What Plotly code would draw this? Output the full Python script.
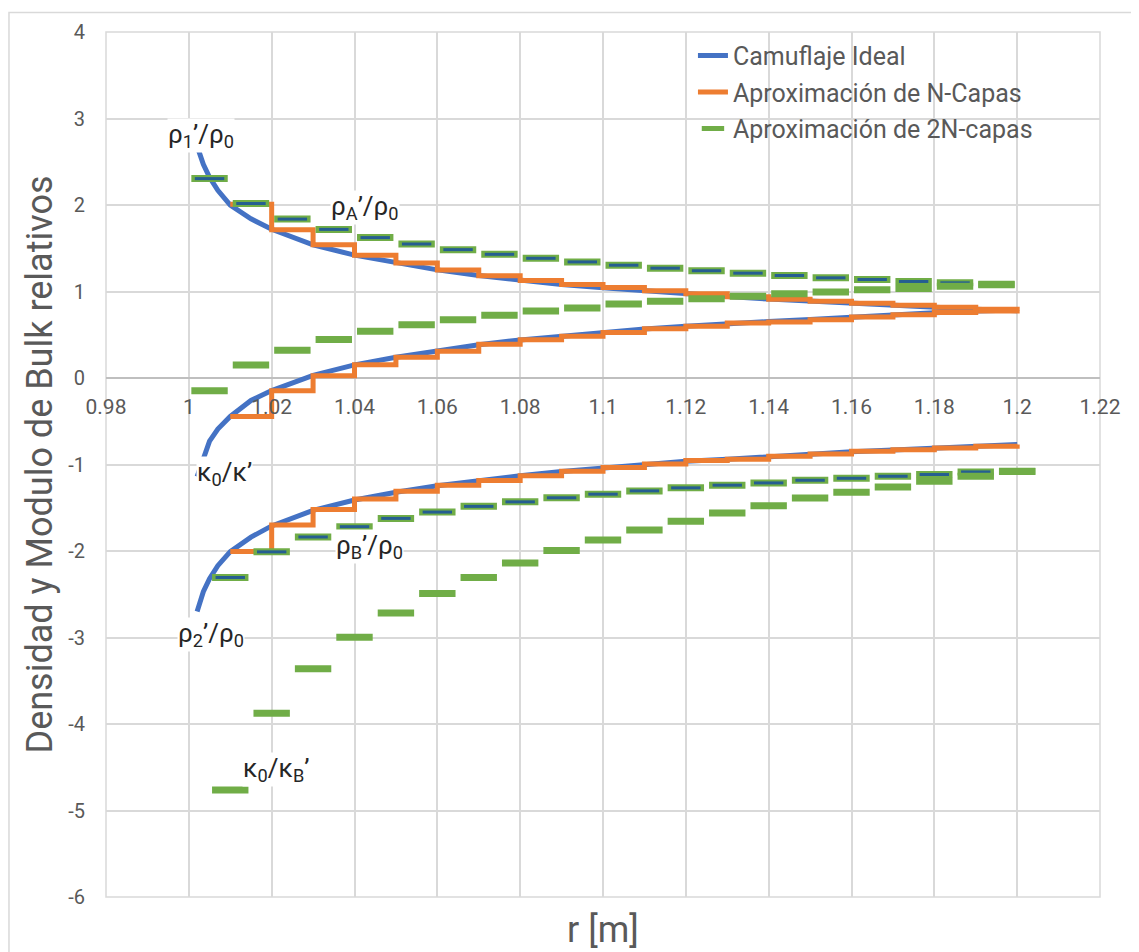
import plotly.graph_objects as go

# ---------------- data ----------------
x_tick_vals = [0.98, 1.0, 1.02, 1.04, 1.06, 1.08, 1.1, 1.12, 1.14, 1.16, 1.18, 1.2, 1.22]
x_tick_text = ["0.98", "1", "1.02", "1.04", "1.06", "1.08", "1.1", "1.12", "1.14", "1.16", "1.18", "1.2", "1.22"]
y_tick_vals = [-6, -5, -4, -3, -2, -1, 0, 1, 2, 3, 4]
y_tick_text = ["-6", "-5", "-4", "-3", "-2", "-1", "0", "1", "2", "3", "4"]

# Camuflaje Ideal (continuous curves)
r_ideal = [1.002, 1.0035, 1.005, 1.007, 1.01, 1.015, 1.02, 1.03, 1.04, 1.05, 1.06, 1.07, 1.08,
           1.09, 1.10, 1.11, 1.12, 1.13, 1.14, 1.15, 1.16, 1.17, 1.18, 1.19, 1.20]
rho1_ideal = [2.68, 2.47, 2.32, 2.17, 2.00, 1.84, 1.72, 1.54, 1.42, 1.33, 1.25, 1.185, 1.128,
              1.08, 1.043, 1.006, 0.973, 0.942, 0.912, 0.887, 0.864, 0.84, 0.817, 0.796, 0.778]
kappa_ideal = [-1.14, -0.92, -0.73, -0.59, -0.445, -0.26, -0.145, 0.03, 0.152, 0.24, 0.31, 0.385, 0.44,
               0.485, 0.525, 0.567, 0.598, 0.632, 0.652, 0.676, 0.705, 0.73, 0.755, 0.775, 0.785]
rho2_ideal = [-2.70, -2.47, -2.32, -2.17, -2.007, -1.84, -1.71, -1.53, -1.41, -1.32, -1.245, -1.185, -1.13,
              -1.08, -1.04, -1.0, -0.962, -0.94, -0.908, -0.882, -0.852, -0.832, -0.81, -0.79, -0.77]

# Aproximación de N-Capas (step values, each held to the next layer)
r_layers = [1.01, 1.02, 1.03, 1.04, 1.05, 1.06, 1.07, 1.08, 1.09, 1.10,
            1.11, 1.12, 1.13, 1.14, 1.15, 1.16, 1.17, 1.18, 1.19, 1.20]
rho1_layers = [2.01, 1.715, 1.54, 1.42, 1.33, 1.25, 1.183, 1.128, 1.08, 1.045,
               1.008, 0.974, 0.94, 0.909, 0.886, 0.864, 0.84, 0.817, 0.794, 0.78]
kappa_layers = [-0.445, -0.148, 0.025, 0.152, 0.24, 0.31, 0.39, 0.443, 0.483, 0.525,
                0.568, 0.598, 0.635, 0.648, 0.674, 0.705, 0.73, 0.757, 0.775, 0.785]
rho2_layers = [-2.007, -1.70, -1.52, -1.40, -1.31, -1.24, -1.185, -1.13, -1.078, -1.036,
               -0.994, -0.955, -0.94, -0.906, -0.88, -0.848, -0.83, -0.81, -0.79, -0.77]

# Aproximación de 2N-capas (layer values, shown as dashes)
r_2n_a = [1.005, 1.015, 1.025, 1.035, 1.045, 1.055, 1.065, 1.075, 1.085, 1.095,
          1.105, 1.115, 1.125, 1.135, 1.145, 1.155, 1.165, 1.175, 1.185, 1.195]
rhoA_2n = [2.305, 2.017, 1.837, 1.718, 1.623, 1.549, 1.484, 1.43, 1.384, 1.342,
           1.304, 1.27, 1.24, 1.212, 1.185, 1.158, 1.139, 1.116, 1.10, 1.085]
kappaA_2n = [-0.146, 0.15, 0.32, 0.444, 0.54, 0.617, 0.674, 0.725, 0.774, 0.81,
             0.855, 0.886, 0.916, 0.944, 0.973, 0.993, 1.02, 1.035, 1.06, 1.077]
r_2n_b = [1.01, 1.02, 1.03, 1.04, 1.05, 1.06, 1.07, 1.08, 1.09, 1.10,
          1.11, 1.12, 1.13, 1.14, 1.15, 1.16, 1.17, 1.18, 1.19, 1.20]
rhoB_2n = [-2.306, -2.01, -1.838, -1.719, -1.623, -1.55, -1.484, -1.432, -1.385, -1.343,
           -1.305, -1.27, -1.239, -1.213, -1.182, -1.159, -1.136, -1.116, -1.086, -1.08]
kappaB_2n = [-4.764, -3.875, -3.36, -2.997, -2.716, -2.49, -2.306, -2.14, -1.993, -1.872,
             -1.757, -1.657, -1.562, -1.478, -1.386, -1.32, -1.259, -1.193, -1.136, -1.078]

series_names = ["Camuflaje Ideal", "Aproximación de N-Capas", "Aproximación de 2N-capas"]

# ---------------- styles ----------------
BLUE = "#4472C4"
ORANGE = "#ED7D31"
GREEN = "#70AD47"
DARKBLUE = "#255E91"
TEXT = "#595959"
GRID = "#D9D9D9"
FONT = "Roboto"


def joined(*parts):
    xs, ys = [], []
    for px, py in parts:
        if xs:
            xs.append(None)
            ys.append(None)
        xs.extend(px)
        ys.extend(py)
    return xs, ys


fig = go.Figure()

bx, by = joined((r_ideal, rho1_ideal), (r_ideal, kappa_ideal), (r_ideal, rho2_ideal))
fig.add_trace(go.Scatter(x=bx, y=by, mode="lines", name=series_names[0],
                         line=dict(color=BLUE, width=5), legendgroup="g1"))

ox, oy = joined((r_layers, rho1_layers), (r_layers, kappa_layers), (r_layers, rho2_layers))
fig.add_trace(go.Scatter(x=ox, y=oy, mode="lines", name=series_names[1],
                         line=dict(color=ORANGE, width=5, shape="hv"), legendgroup="g2"))

gx, gy = joined((r_2n_a, rhoA_2n), (r_2n_b, rhoB_2n))
fig.add_trace(go.Scatter(x=gx, y=gy, mode="markers", name=series_names[2], legendgroup="g3",
                         marker=dict(symbol="line-ew", size=26, color=GREEN,
                                     line=dict(color=GREEN, width=7))))
fig.add_trace(go.Scatter(x=gx, y=gy, mode="markers", showlegend=False, legendgroup="g3",
                         marker=dict(symbol="line-ew", size=21, color=DARKBLUE,
                                     line=dict(color=DARKBLUE, width=3))))
kx, ky = joined((r_2n_a, kappaA_2n), (r_2n_b, kappaB_2n))
fig.add_trace(go.Scatter(x=kx, y=ky, mode="markers", showlegend=False, legendgroup="g3",
                         marker=dict(symbol="line-ew", size=26, color=GREEN,
                                     line=dict(color=GREEN, width=7))))

labels = [
    ("ρ<sub>1</sub>’/ρ<sub>0</sub>", 1.0029, 2.80),
    ("ρ<sub>A</sub>’/ρ<sub>0</sub>", 1.0425, 1.97),
    ("κ<sub>0</sub>/κ’", 1.0085, -1.10),
    ("ρ<sub>B</sub>’/ρ<sub>0</sub>", 1.0437, -1.95),
    ("ρ<sub>2</sub>’/ρ<sub>0</sub>", 1.0054, -2.97),
    ("κ<sub>0</sub>/κ<sub>B</sub>’", 1.021, -4.53),
]
annotations = []
for txt, lx, ly in labels:
    annotations.append(dict(x=lx, y=ly, xref="x", yref="y", text=txt, showarrow=False,
                            font=dict(family=FONT, size=26, color="#262626"),
                            bgcolor="white", borderpad=0))
annotations.append(dict(x=0.5, y=-0.038, xref="paper", yref="paper", text="r [m]",
                        showarrow=False, yanchor="middle",
                        font=dict(family=FONT, size=36, color=TEXT)))

# the page body adds an 8 px offset, so the figure is 8 px smaller and margins shifted
fig.update_layout(
    width=1131, height=944,
    margin=dict(l=98, r=39, t=21, b=55),
    paper_bgcolor="white", plot_bgcolor="white",
    font=dict(family=FONT, color=TEXT),
    showlegend=True,
    legend=dict(x=0.5905, y=0.999, xanchor="left", yanchor="top",
                font=dict(family=FONT, size=25, color=TEXT),
                bgcolor="rgba(0,0,0,0)", traceorder="grouped", tracegroupgap=1),
    annotations=annotations,
    shapes=[
        dict(type="rect", xref="paper", yref="paper", x0=0, y0=0, x1=1, y1=1,
             line=dict(color=GRID, width=1.5), layer="below"),
        dict(type="rect", xref="paper", yref="paper", x0=-0.0976, y0=-0.08, x1=1.05, y1=1.0225,
             line=dict(color=GRID, width=1.5), layer="below"),
    ],
)

fig.update_xaxes(range=[0.98, 1.22], tickvals=x_tick_vals, ticktext=x_tick_text,
                 showgrid=True, gridcolor=GRID, gridwidth=1.5, zeroline=False,
                 showline=False, ticks="", anchor="free", position=0.6,
                 tickfont=dict(family=FONT, size=21, color=TEXT), ticklabelstandoff=14)
fig.update_yaxes(range=[-6, 4], tickvals=y_tick_vals, ticktext=y_tick_text,
                 showgrid=True, gridcolor=GRID, gridwidth=1.5,
                 zeroline=True, zerolinecolor="#BFBFBF", zerolinewidth=2,
                 showline=False, ticks="",
                 tickfont=dict(family=FONT, size=20, color=TEXT), ticklabelstandoff=20,
                 title=dict(text="Densidad y Modulo de Bulk relativos",
                            font=dict(family=FONT, size=36, color=TEXT), standoff=4))

fig.write_html("out.html")
